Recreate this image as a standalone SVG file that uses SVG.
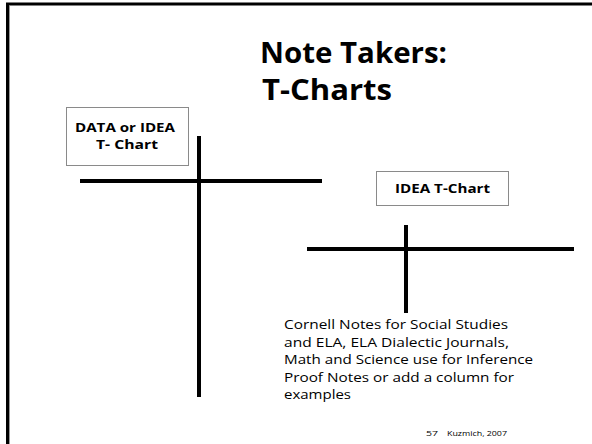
<svg xmlns="http://www.w3.org/2000/svg" width="592" height="444" viewBox="0 0 592 444">
  <style>
    .frame { stroke: #000; stroke-width: 3; fill: none; }
    .shade { stroke: #999; stroke-width: 1; fill: none; }
    .box { fill: #fff; stroke: #8a8a8a; stroke-width: 1; }
    .bar { stroke: #000; stroke-width: 4; fill: none; }
    .title { font-family: "Open Sans", "DejaVu Sans", sans-serif; font-weight: bold; font-size: 28px; fill: #000; }
    .label { font-family: "Open Sans", "DejaVu Sans", sans-serif; font-weight: bold; font-size: 13px; fill: #000; }
    .body { font-family: "Open Sans", "DejaVu Sans", sans-serif; font-size: 13px; fill: #000; }
    .foot { font-family: "Open Sans", "DejaVu Sans", sans-serif; font-size: 7px; fill: #000; }
  </style>
  <rect x="0" y="0" width="592" height="444" fill="#fff"/>

  <!-- slide frame: top and left rules -->
  <g id="frame">
    <line class="shade" x1="9.5" y1="6" x2="9.5" y2="444"/>
    <line class="frame" x1="6" y1="4" x2="592" y2="4"/>
    <line class="frame" x1="7.5" y1="3" x2="7.5" y2="444"/>
  </g>

  <g id="title">
    <text class="title" x="260" y="63" textLength="187" lengthAdjust="spacingAndGlyphs">Note Takers:</text>
    <text class="title" x="262" y="100" textLength="130" lengthAdjust="spacingAndGlyphs">T-Charts</text>
  </g>

  <g id="data-idea-box">
    <rect class="box" x="66.5" y="107.5" width="122" height="58"/>
    <text class="label" x="75" y="132" textLength="100" lengthAdjust="spacingAndGlyphs">DATA or IDEA</text>
    <text class="label" x="96" y="149" textLength="62" lengthAdjust="spacingAndGlyphs">T- Chart</text>
  </g>

  <g id="idea-box">
    <rect class="box" x="376.5" y="171.5" width="132" height="34"/>
    <text class="label" x="395" y="193" textLength="95" lengthAdjust="spacingAndGlyphs">IDEA T-Chart</text>
  </g>

  <!-- the two T shapes -->
  <g id="connectors">
    <g id="t-chart-left">
      <line class="bar" x1="80" y1="181" x2="322" y2="181"/>
      <line class="bar" x1="199" y1="136" x2="199" y2="397"/>
    </g>
    <g id="t-chart-right">
      <line class="bar" x1="307" y1="249" x2="574" y2="249"/>
      <line class="bar" x1="406" y1="225" x2="406" y2="313"/>
    </g>
  </g>

  <g id="notes">
    <text class="body" x="284" y="329" textLength="224" lengthAdjust="spacingAndGlyphs">Cornell Notes for Social Studies</text>
    <text class="body" x="284" y="347" textLength="225" lengthAdjust="spacingAndGlyphs">and ELA, ELA Dialectic Journals,</text>
    <text class="body" x="284" y="364" textLength="249" lengthAdjust="spacingAndGlyphs">Math and Science use for Inference</text>
    <text class="body" x="284" y="382" textLength="230" lengthAdjust="spacingAndGlyphs">Proof Notes or add a column for</text>
    <text class="body" x="284" y="399" textLength="67" lengthAdjust="spacingAndGlyphs">examples</text>
  </g>

  <g id="footer">
    <text class="foot" x="426" y="436" textLength="12" lengthAdjust="spacingAndGlyphs">57</text>
    <text class="foot" x="447" y="436" textLength="60" lengthAdjust="spacingAndGlyphs">Kuzmich, 2007</text>
  </g>
</svg>
